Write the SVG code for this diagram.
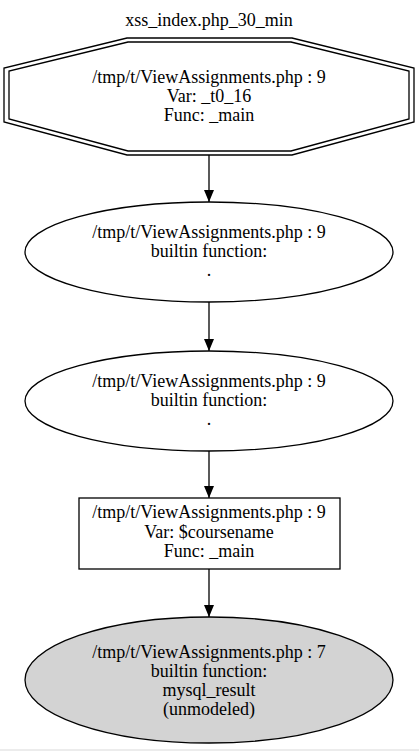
<svg xmlns="http://www.w3.org/2000/svg" width="419" height="751" viewBox="0 0 419 751">
<defs>
<style>
text{font-family:"Liberation Serif","Times New Roman",serif;font-size:18px;fill:#000;text-anchor:middle}
.shape{fill:none;stroke:#000;stroke-width:1.3}
.edge{stroke:#000;stroke-width:1.3;fill:none}
</style>
<marker id="arr" viewBox="0 0 12 10" refX="12" refY="5" markerWidth="12" markerHeight="10" markerUnits="userSpaceOnUse" orient="auto">
<path d="M0,0 L12,5 L0,10 Z" fill="#000"/>
</marker>
</defs>
<rect x="0" y="0" width="419" height="751" fill="#fff"/>
<rect x="0" y="749" width="419" height="2" fill="#ececec"/>
<text x="209" y="26">xss_index.php_30_min</text>
<g id="connectors">
<line class="edge" x1="209" y1="155" x2="209" y2="202" marker-end="url(#arr)"/>
<line class="edge" x1="209" y1="302" x2="209" y2="351" marker-end="url(#arr)"/>
<line class="edge" x1="209" y1="451" x2="209" y2="498" marker-end="url(#arr)"/>
<line class="edge" x1="209" y1="569" x2="209" y2="617" marker-end="url(#arr)"/>
</g>
<g id="node1">
<polygon class="shape" points="127,38 292,38 414,68 414,122 292,155 127,155 4,122 4,68"/>
<polygon class="shape" points="128,42 291,42 409,71 409,119 291,151 128,151 9,119 9,71"/>
<text x="209" y="83">/tmp/t/ViewAssignments.php : 9</text>
<text x="209" y="102">Var: _t0_16</text>
<text x="209" y="121">Func: _main</text>
</g>
<g id="node2">
<ellipse class="shape" cx="209" cy="252" rx="184" ry="50"/>
<text x="209" y="238">/tmp/t/ViewAssignments.php : 9</text>
<text x="209" y="257">builtin function:</text>
<text x="209" y="276">.</text>
</g>
<g id="node3">
<ellipse class="shape" cx="209" cy="401" rx="184" ry="50"/>
<text x="209" y="387">/tmp/t/ViewAssignments.php : 9</text>
<text x="209" y="406">builtin function:</text>
<text x="209" y="425">.</text>
</g>
<g id="node4">
<rect class="shape" x="79" y="498" width="261" height="71"/>
<text x="209" y="518">/tmp/t/ViewAssignments.php : 9</text>
<text x="209" y="538">Var: $coursename</text>
<text x="209" y="557">Func: _main</text>
</g>
<g id="node5">
<ellipse cx="209" cy="680" rx="184" ry="63" fill="#d3d3d3" stroke="#000" stroke-width="1.3"/>
<text x="209" y="658">/tmp/t/ViewAssignments.php : 7</text>
<text x="209" y="677">builtin function:</text>
<text x="209" y="696">mysql_result</text>
<text x="209" y="715">(unmodeled)</text>
</g>
</svg>
